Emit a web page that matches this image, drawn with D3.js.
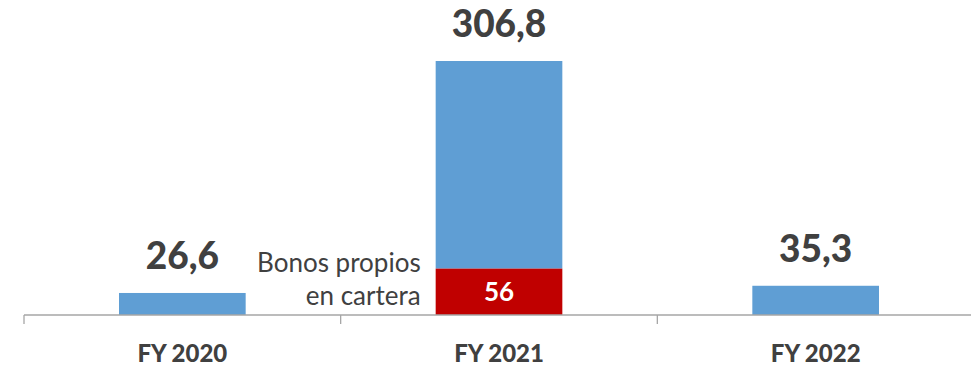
<!DOCTYPE html>
<html>
<head>
<meta charset="utf-8">
<script src="https://cdn.jsdelivr.net/npm/d3@7/dist/d3.min.js"></script>
<style>
  html, body { margin: 0; padding: 0; background: #fff; }
  svg { display: block; font-family: Lato, "Open Sans", sans-serif; }
</style>
</head>
<body>
<svg id="chart" width="971" height="366"></svg>
<script>
// Categories and values
const categories = ["FY 2020", "FY 2021", "FY 2022"];
const totals = [26.6, 306.8, 35.3];
const ownBonds = [0, 56, 0];           // red segment at the base of each bar
const totalLabels = ["26,6", "306,8", "35,3"];
const ownBondsLabel = "56";
const noteLines = ["Bonos propios", "en cartera"];

const svg = d3.select("#chart");
const baseY = 315;

const x = d3.scaleBand().domain(categories).range([24, 974]).padding(0);
const y = d3.scaleLinear().domain([0, 306.8]).range([baseY, 61]);
const barW = x.bandwidth() * 0.4;

const data = categories.map((c, i) => ({ cat: c, total: totals[i], own: ownBonds[i], label: totalLabels[i] }));

// Blue bars (remainder above the own-bonds segment)
svg.selectAll("rect.total").data(data).enter().append("rect")
  .attr("class", "total")
  .attr("x", d => x(d.cat) + (x.bandwidth() - barW) / 2)
  .attr("width", barW)
  .attr("y", d => y(d.total))
  .attr("height", d => y(d.own) - y(d.total))
  .attr("fill", "#5f9ed4");

// Red own-bonds segment
svg.selectAll("rect.own").data(data.filter(d => d.own > 0)).enter().append("rect")
  .attr("class", "own")
  .attr("x", d => x(d.cat) + (x.bandwidth() - barW) / 2)
  .attr("width", barW)
  .attr("y", d => y(d.own))
  .attr("height", d => y(0) - y(d.own))
  .attr("fill", "#c00000");

svg.selectAll("text.own").data(data.filter(d => d.own > 0)).enter().append("text")
  .attr("x", d => x(d.cat) + x.bandwidth() / 2)
  .attr("y", d => (y(d.own) + y(0)) / 2 + 9)
  .attr("text-anchor", "middle")
  .attr("font-size", 26)
  .attr("font-weight", 700)
  .attr("fill", "#fff")
  .text(ownBondsLabel);

// Total value labels above bars
svg.selectAll("text.total").data(data).enter().append("text")
  .attr("x", d => x(d.cat) + x.bandwidth() / 2)
  .attr("y", d => y(d.total) - 24)
  .attr("text-anchor", "middle")
  .attr("font-size", 37)
  .attr("font-weight", 900)
  .attr("fill", "#404040")
  .text(d => d.label);

// Note next to the red segment
const noteX = x("FY 2021") + (x.bandwidth() - barW) / 2 - 15;
svg.append("text")
  .attr("text-anchor", "end")
  .attr("font-size", 26)
  .attr("fill", "#404040")
  .selectAll("tspan").data(noteLines).enter().append("tspan")
  .attr("x", noteX)
  .attr("y", (d, i) => 272 + i * 33)
  .text(d => d);

// Category axis
const axis = svg.append("g").attr("transform", `translate(0,${baseY})`)
  .call(d3.axisBottom(x).tickSize(0).tickPadding(30));
axis.select(".domain").attr("stroke", "#a6a6a6").attr("stroke-width", 1.3)
  .attr("d", `M24,0H971`);
axis.selectAll(".tick text")
  .attr("font-family", "Lato, 'Open Sans', sans-serif")
  .attr("font-size", 24)
  .attr("font-weight", 900)
  .attr("fill", "#404040");

// Boundary ticks between categories
const bounds = categories.map(c => x(c));
axis.selectAll("line.bound").data(bounds).enter().append("line")
  .attr("class", "bound")
  .attr("x1", d => d).attr("x2", d => d)
  .attr("y1", 0).attr("y2", 9)
  .attr("stroke", "#a6a6a6").attr("stroke-width", 1.3);
</script>
</body>
</html>
